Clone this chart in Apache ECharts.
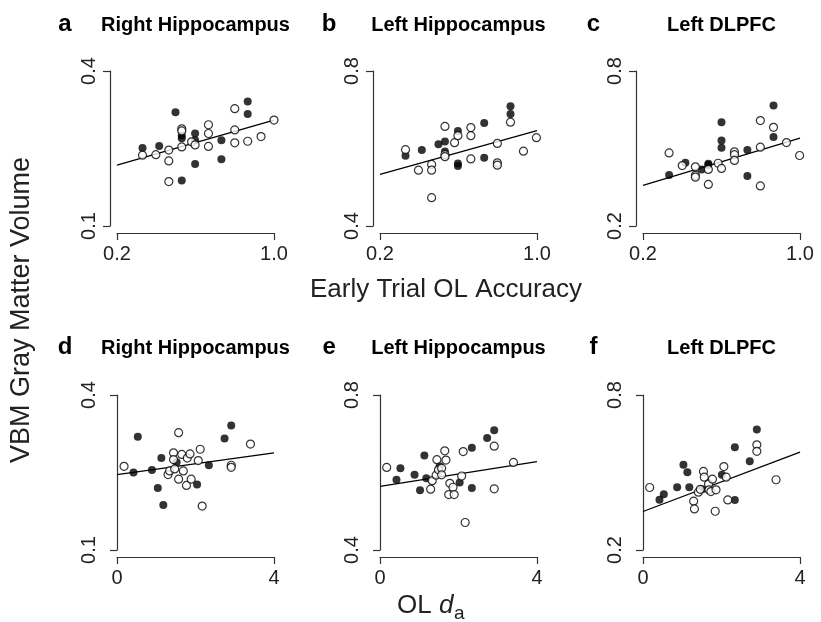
<!DOCTYPE html>
<html lang="en">
<head>
<meta charset="utf-8">
<title>VBM Gray Matter Volume</title>
<script src="https://cdn.jsdelivr.net/npm/echarts@6/dist/echarts.min.js"></script>
<style>
  html, body { margin: 0; padding: 0; background: #fff; }
  #chart { width: 821px; height: 622px; }
</style>
</head>
<body>
<div id="chart"></div>
<script>
// panel titles
const panelLetters = ['a', 'b', 'c', 'd', 'e', 'f'];
const panelNames = ['Right Hippocampus', 'Left Hippocampus', 'Left DLPFC',
                    'Right Hippocampus', 'Left Hippocampus', 'Left DLPFC'];

// axis ranges (only end ticks are labelled)
const xTop = [0.2, 1.0];
const xBottom = [0, 4];
const yRanges = [[0.1, 0.4], [0.4, 0.8], [0.2, 0.8], [0.1, 0.4], [0.4, 0.8], [0.2, 0.8]];

// a : early trial accuracy vs right hippocampus
const aFilled = [[0.33,0.251],[0.415,0.255],[0.498,0.320],[0.53,0.275],[0.53,0.270],[0.598,0.279],[0.598,0.266],
  [0.53,0.188],[0.598,0.220],[0.732,0.266],[0.732,0.229],[0.866,0.341],[0.866,0.317]];
const aOpen = [[0.33,0.237],[0.398,0.238],[0.464,0.247],[0.464,0.226],[0.464,0.186],[0.53,0.253],[0.53,0.288],
  [0.53,0.284],[0.58,0.263],[0.598,0.257],[0.666,0.296],[0.666,0.279],[0.666,0.254],[0.8,0.327],[0.8,0.286],
  [0.8,0.261],[0.866,0.264],[0.934,0.273],[1.0,0.305]];
const aLine = [[0.2,0.218],[1.0,0.305]];

// b : early trial accuracy vs left hippocampus
const bFilled = [[0.33,0.581],[0.413,0.596],[0.498,0.611],[0.531,0.618],[0.531,0.592],[0.597,0.645],[0.597,0.561],
  [0.597,0.555],[0.731,0.666],[0.731,0.576],[0.865,0.709],[0.865,0.689]];
const bOpen = [[0.33,0.597],[0.396,0.544],[0.463,0.559],[0.463,0.544],[0.463,0.473],[0.531,0.657],[0.531,0.584],
  [0.531,0.579],[0.58,0.615],[0.597,0.633],[0.663,0.654],[0.663,0.633],[0.663,0.573],[0.798,0.613],[0.798,0.563],
  [0.798,0.557],[0.865,0.668],[0.931,0.593],[0.997,0.628]];
const bLine = [[0.2,0.533],[1.0,0.646]];

// c : early trial accuracy vs left DLPFC
const cFilled = [[0.333,0.397],[0.416,0.445],[0.499,0.419],[0.533,0.441],[0.533,0.436],[0.6,0.602],[0.6,0.531],
  [0.6,0.503],[0.732,0.494],[0.732,0.394],[0.865,0.666],[0.865,0.545]];
const cOpen = [[0.333,0.483],[0.4,0.434],[0.467,0.429],[0.467,0.396],[0.467,0.389],[0.533,0.419],[0.533,0.361],
  [0.583,0.443],[0.6,0.423],[0.666,0.487],[0.666,0.476],[0.666,0.454],[0.798,0.608],[0.798,0.505],[0.798,0.355],
  [0.865,0.582],[0.931,0.523],[0.998,0.473]];
const cLine = [[0.2,0.357],[1.0,0.540]];

// d : OL da vs right hippocampus
const dFilled = [[0.42,0.250],[0.53,0.319],[0.89,0.255],[1.04,0.220],[1.13,0.278],[1.18,0.187],[1.52,0.270],
  [2.04,0.227],[2.34,0.264],[2.74,0.316],[2.91,0.341]];
const dOpen = [[0.18,0.262],[1.30,0.246],[1.34,0.253],[1.44,0.288],[1.44,0.275],[1.47,0.257],[1.57,0.327],
  [1.57,0.237],[1.65,0.285],[1.69,0.253],[1.77,0.225],[1.79,0.278],[1.86,0.286],[1.89,0.237],[2.07,0.273],
  [2.12,0.295],[2.17,0.185],[2.91,0.264],[2.91,0.260],[3.40,0.305]];
const dLine = [[0,0.246],[4,0.288]];

// e : OL da vs left hippocampus
const eFilled = [[0.42,0.581],[0.52,0.611],[0.88,0.594],[1.02,0.554],[1.13,0.644],[1.18,0.585],[1.52,0.616],
  [2.03,0.574],[2.34,0.664],[2.34,0.560],[2.73,0.689],[2.91,0.709]];
const eOpen = [[0.17,0.613],[1.29,0.557],[1.33,0.579],[1.43,0.593],[1.45,0.633],[1.49,0.607],[1.57,0.611],
  [1.57,0.594],[1.65,0.656],[1.68,0.632],[1.78,0.572],[1.75,0.543],[1.86,0.562],[1.89,0.543],[2.08,0.591],
  [2.12,0.654],[2.17,0.471],[2.91,0.668],[2.91,0.558],[3.40,0.626]];
const eLine = [[0,0.564],[4,0.628]];

// f : OL da vs left DLPFC
const fFilled = [[0.42,0.395],[0.53,0.416],[0.87,0.443],[1.03,0.530],[1.13,0.501],[1.18,0.443],[1.51,0.435],
  [2.01,0.491],[2.34,0.598],[2.34,0.394],[2.72,0.544],[2.90,0.666]];
const fOpen = [[0.17,0.442],[1.29,0.389],[1.31,0.359],[1.41,0.424],[1.46,0.435],[1.54,0.504],[1.56,0.482],
  [1.67,0.455],[1.68,0.433],[1.77,0.474],[1.73,0.426],[1.86,0.433],[1.84,0.350],[2.06,0.523],[2.12,0.482],
  [2.16,0.394],[2.90,0.607],[2.90,0.582],[3.39,0.472]];
const fLine = [[0,0.349],[4,0.579]];

const filledSets = [aFilled, bFilled, cFilled, dFilled, eFilled, fFilled];
const openSets = [aOpen, bOpen, cOpen, dOpen, eOpen, fOpen];
const lineSets = [aLine, bLine, cLine, dLine, eLine, fLine];

// layout
const colLeft = [117, 380, 643];
const rowTop = [71, 395];
const plotW = 157, plotH = 155;
const FONT = 'Liberation Sans';
const axisColor = '#333';

let grids = [], xAxes = [], yAxes = [], series = [], graphics = [];

for (let i = 0; i < 6; i++) {
  let col = i % 3, row = Math.floor(i / 3);
  let xr = row == 0 ? xTop : xBottom;
  let yr = yRanges[i];
  grids.push({ left: colLeft[col], top: rowTop[row], width: plotW, height: plotH });

  xAxes.push({
    gridIndex: i, type: 'value', min: xr[0], max: xr[1], offset: 7,
    axisLine: { show: true, lineStyle: { color: axisColor, width: 1.2 } },
    axisTick: { show: true, length: 7, customValues: xr, lineStyle: { color: axisColor, width: 1.2 } },
    axisLabel: {
      customValues: xr, fontSize: 20, fontFamily: FONT, color: '#222', margin: 11,
      formatter: v => row == 0 ? v.toFixed(1) : String(v)
    },
    splitLine: { show: false }
  });
  yAxes.push({
    gridIndex: i, type: 'value', min: yr[0], max: yr[1], offset: 7,
    axisLine: { show: true, lineStyle: { color: axisColor, width: 1.2 } },
    axisTick: { show: true, length: 7, customValues: yr, lineStyle: { color: axisColor, width: 1.2 } },
    axisLabel: {
      customValues: yr, fontSize: 20, fontFamily: FONT, color: '#222', margin: 11, rotate: 90,
      formatter: v => v.toFixed(1)
    },
    splitLine: { show: false }
  });

  series.push({
    type: 'line', xAxisIndex: i, yAxisIndex: i, data: lineSets[i], showSymbol: false, silent: true,
    lineStyle: { color: '#000', width: 1.3 }, z: 2
  });
  series.push({
    type: 'scatter', xAxisIndex: i, yAxisIndex: i, data: filledSets[i], symbolSize: 8,
    itemStyle: { color: '#000' }, z: 3
  });
  series.push({
    type: 'scatter', xAxisIndex: i, yAxisIndex: i, data: openSets[i], symbolSize: 8,
    itemStyle: { color: '#fff', borderColor: '#000', borderWidth: 1.2 }, z: 3
  });

  // panel letter + region name
  let cx = colLeft[col] + plotW / 2;
  let ty = row == 0 ? 25 : 348;
  graphics.push({
    type: 'text', x: cx, y: ty,
    style: { text: panelNames[i], fontSize: 20, fontWeight: 'bold', fontFamily: FONT, fill: '#000',
             align: 'center', verticalAlign: 'middle' }
  });
  graphics.push({
    type: 'text', x: 65 + col * 264.2, y: ty - 1,
    style: { text: panelLetters[i], fontSize: 24, fontWeight: 'bold', fontFamily: FONT, fill: '#000',
             align: 'center', verticalAlign: 'middle' }
  });
}

// shared axis titles
graphics.push({
  type: 'text', x: 22, y: 310, rotation: Math.PI / 2,
  style: { text: 'VBM Gray Matter Volume', fontSize: 27, fontFamily: FONT, fill: '#222',
           align: 'center', verticalAlign: 'middle' }
});
graphics.push({
  type: 'text', x: 446, y: 290,
  style: { text: 'Early Trial OL Accuracy', fontSize: 26, fontFamily: FONT, fill: '#222',
           align: 'center', verticalAlign: 'middle' }
});
graphics.push({
  type: 'text', x: 397, y: 606,
  style: { text: 'OL ', fontSize: 26, fontFamily: FONT, fill: '#222', align: 'left', verticalAlign: 'middle' }
});
graphics.push({
  type: 'text', x: 439, y: 606,
  style: { text: 'd', fontSize: 26, fontStyle: 'italic', fontFamily: FONT, fill: '#222',
           align: 'left', verticalAlign: 'middle' }
});
graphics.push({
  type: 'text', x: 454, y: 614,
  style: { text: 'a', fontSize: 19, fontFamily: FONT, fill: '#222', align: 'left', verticalAlign: 'middle' }
});

let chart = echarts.init(document.getElementById('chart'), null, { renderer: 'canvas' });
chart.setOption({
  animation: false,
  backgroundColor: '#fff',
  grid: grids,
  xAxis: xAxes,
  yAxis: yAxes,
  series: series,
  graphic: graphics
});
</script>
</body>
</html>
